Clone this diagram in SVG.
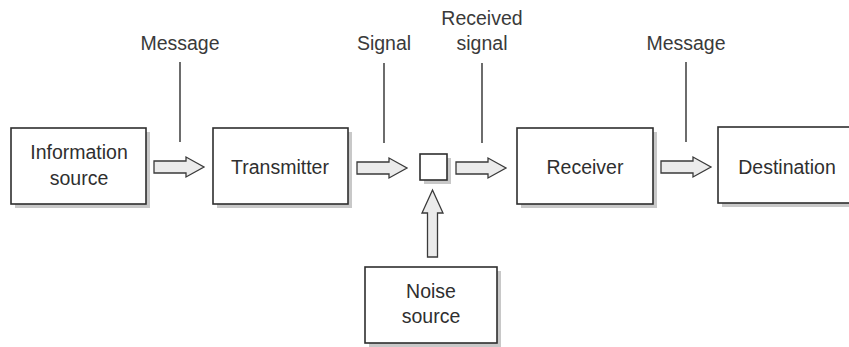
<svg xmlns="http://www.w3.org/2000/svg" width="849" height="347" viewBox="0 0 849 347">
  <style>
    .box { fill: #ffffff; stroke: #2e2e2e; stroke-width: 1.6; }
    .shadow { fill: #c8c8c8; }
    .label { font-family: "Liberation Sans", Arial, Helvetica, sans-serif; font-size: 19.5px; fill: #2f2f2f; text-anchor: middle; }
    .tag { font-family: "Liberation Sans", Arial, Helvetica, sans-serif; font-size: 19.5px; fill: #3a3a3a; text-anchor: middle; }
    .lead { stroke: #2e2e2e; stroke-width: 1.4; fill: none; }
    .flow { fill: #ebebeb; stroke: #3a3a3a; stroke-width: 1.3; stroke-linejoin: miter; }
  </style>
  <defs>
    <!-- block arrow pointing right, 50 long, origin at tail centre -->
    <path id="harrow" d="M0,-6 H32 V-10 L50,0 L32,10 V6 H0 Z"/>
  </defs>

  <rect width="849" height="347" fill="#ffffff"/>

  <g id="info-source">
    <rect class="shadow" x="15" y="132" width="135" height="76"/>
    <rect class="box" x="11" y="128" width="135" height="76"/>
    <text class="label" x="79" y="159">Information</text>
    <text class="label" x="79" y="185">source</text>
  </g>

  <g id="transmitter">
    <rect class="shadow" x="217" y="132" width="135" height="76"/>
    <rect class="box" x="213" y="128" width="135" height="76"/>
    <text class="label" x="280" y="174">Transmitter</text>
  </g>

  <g id="channel">
    <rect class="shadow" x="424" y="158" width="27" height="26"/>
    <rect class="box" x="420" y="154" width="27" height="26"/>
  </g>

  <g id="receiver">
    <rect class="shadow" x="521" y="132" width="136" height="76"/>
    <rect class="box" x="517" y="128" width="136" height="76"/>
    <text class="label" x="585" y="174">Receiver</text>
  </g>

  <g id="destination">
    <rect class="shadow" x="722" y="131" width="140" height="76"/>
    <rect class="box" x="718" y="127" width="140" height="76"/>
    <text class="label" x="787" y="174">Destination</text>
  </g>

  <g id="noise-source">
    <rect class="shadow" x="369" y="271" width="132" height="76"/>
    <rect class="box" x="365" y="267" width="132" height="76"/>
    <text class="label" x="431" y="298">Noise</text>
    <text class="label" x="431" y="323">source</text>
  </g>

  <g id="connectors">
    <use href="#harrow" class="flow" transform="translate(154,167)"/>
    <use href="#harrow" class="flow" transform="translate(357,168)"/>
    <use href="#harrow" class="flow" transform="translate(456,168)"/>
    <use href="#harrow" class="flow" transform="translate(661,167)"/>
    <!-- noise enters the channel from below -->
    <path class="flow" d="M427.5,257 V213 H422 L432.5,190 L443,213 H437.5 V257 Z"/>
  </g>

  <g id="annotations">
    <line class="lead" x1="180" y1="62" x2="180" y2="142"/>
    <text class="tag" x="180" y="50">Message</text>
    <line class="lead" x1="384" y1="63" x2="384" y2="143"/>
    <text class="tag" x="384" y="50">Signal</text>
    <line class="lead" x1="482" y1="63" x2="482" y2="143"/>
    <text class="tag" x="482" y="25">Received</text>
    <text class="tag" x="482" y="50">signal</text>
    <line class="lead" x1="686" y1="62" x2="686" y2="142"/>
    <text class="tag" x="686" y="50">Message</text>
  </g>
</svg>
